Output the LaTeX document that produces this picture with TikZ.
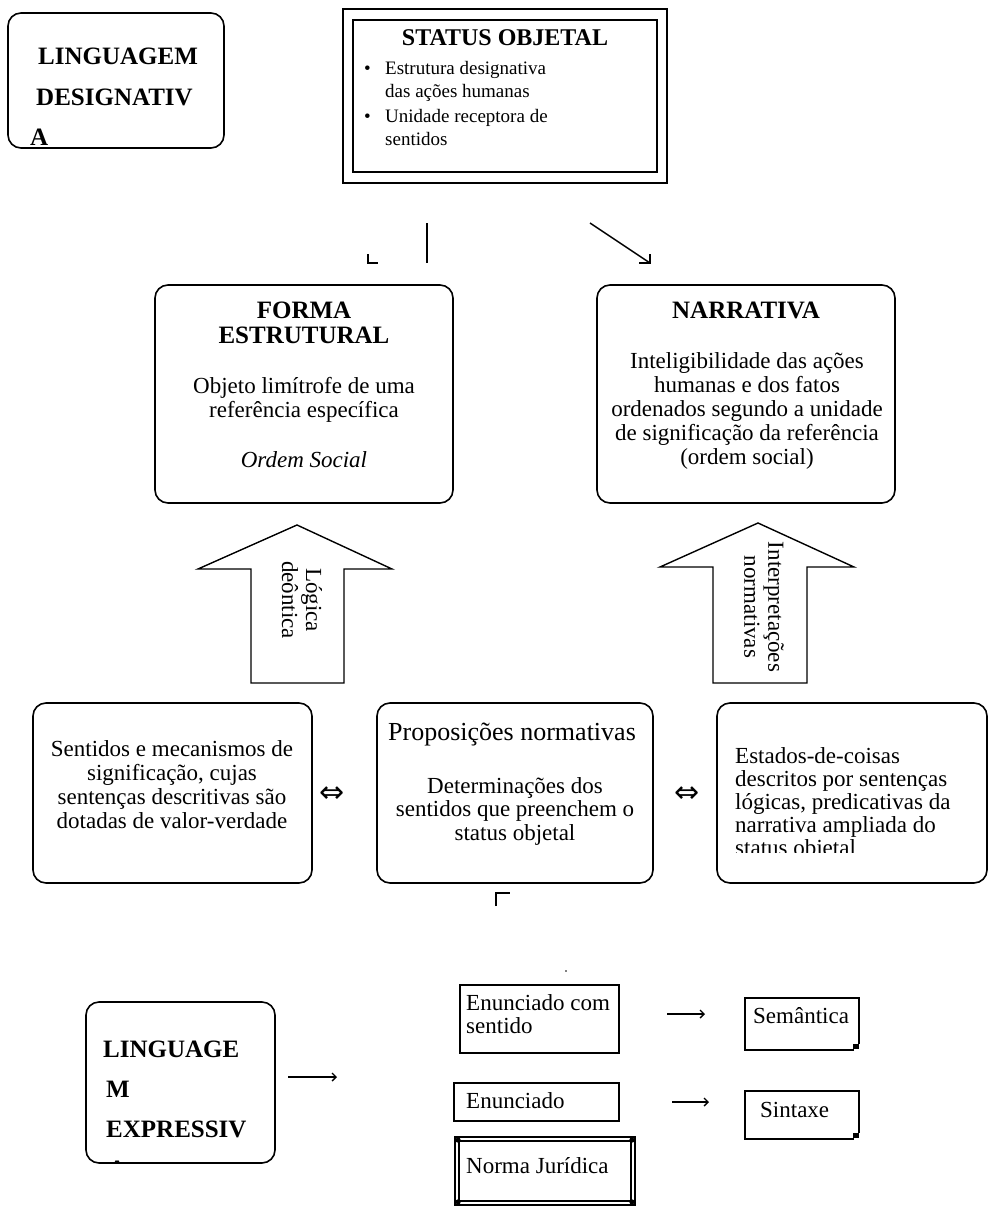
\documentclass[tikz,border=0pt]{standalone}
\usepackage{fontspec}
\setmainfont{Liberation Serif}
\newfontfamily\symfont{DejaVu Sans}
\usetikzlibrary{arrows.meta}
\begin{document}
\begin{tikzpicture}[x=1pt,y=-1pt,
  rbox/.style={draw, line width=1.6pt, rounded corners=13pt, inner sep=0pt},
  body/.style={font=\fontsize{23}{23.5}\selectfont, inner sep=0pt, align=center},
  bodyl/.style={font=\fontsize{23}{23}\selectfont, inner sep=0pt, align=left},
  ttl/.style={font=\fontsize{25}{25}\selectfont\bfseries, inner sep=0pt, align=center},
  big/.style={font=\fontsize{25}{25}\selectfont\bfseries, inner sep=0pt},
  small/.style={font=\fontsize{19}{23}\selectfont, inner sep=0pt, align=left},
  frag/.style={line width=1.4pt},
  blockarrow/.style={draw, line width=1.4pt, fill=white, line join=miter},
  txtarrow/.style={line width=1.4pt, -{Straight Barb[length=4pt,width=8pt]}},
  iff/.style={font=\symfont\fontsize{30}{30}\selectfont, inner sep=0pt},
]
\useasboundingbox (0,0) rectangle (989,1207);

% LINGUAGEM DESIGNATIVA
\node[rbox, minimum width=216pt, minimum height=135pt] (ld) at (116,80.5) {};
\node[big, anchor=base west] (ld1) at (38,65) {LINGUAGEM};
\node[big, anchor=base west] (ld2) at (36,105) {DESIGNATIV};
\node[big, anchor=base west] (ld3) at (30,145) {A};

% STATUS OBJETAL
\node[draw, line width=1.1pt, minimum width=324pt, minimum height=174pt, inner sep=0pt] (stout) at (505,96) {};
\node[draw, line width=1.8pt, minimum width=304pt, minimum height=152pt, inner sep=0pt] (stin) at (505,96) {};
\node[font=\fontsize{24}{24}\selectfont\bfseries, inner sep=0pt, anchor=base] (sttitle) at (505,46) {STATUS OBJETAL};
\node[small, anchor=base west] (stb1) at (364,97.5) {\makebox[21pt][l]{•}Estrutura designativa\\\hspace*{21pt}das ações humanas};
\node[small, anchor=base west] (stb2) at (364,145.5) {\makebox[21pt][l]{•}Unidade receptora de\\\hspace*{21pt}sentidos};

% fragments under STATUS
\coordinate (va) at (427,223);
\coordinate (vb) at (427,263);
\draw[frag] (va) -- (vb);
\coordinate (la) at (368,254);
\coordinate (lb) at (368,263);
\coordinate (lc) at (378,263);
\draw[frag] (la) -- (lb) -- (lc);
\coordinate (da) at (590,223);
\coordinate (db) at (650,263);
\coordinate (dc) at (639,263);
\coordinate (dd) at (650,254);
\draw[frag] (da) -- (db);
\draw[frag] (dc) -- (db) -- (dd);

% FORMA ESTRUTURAL
\node[rbox, minimum width=298pt, minimum height=218pt] (forma) at (304,394) {};
\node[ttl, anchor=base] (format) at (304,343) {FORMA\\ESTRUTURAL};
\node[body, font=\fontsize{23}{24}\selectfont, anchor=base] (formab) at (304,417) {Objeto limítrofe de uma\\referência específica};
\node[body, anchor=base] (formai) at (304,467) {\itshape Ordem Social};

% NARRATIVA
\node[rbox, minimum width=298pt, minimum height=218pt] (narr) at (746,394) {};
\node[ttl, anchor=base] (narrt) at (746,318) {NARRATIVA};
\node[body, font=\fontsize{23}{24}\selectfont, anchor=base] (narrb) at (747,464) {Inteligibilidade das ações\\humanas e dos fatos\\ordenados segundo a unidade\\de significação da referência\\(ordem social)};

% block arrows
\draw[blockarrow] (251,683) -- (251,569) -- (198,569) -- (297,525) -- (392,569) -- (344,569) -- (344,683) -- cycle;
\node[body, font=\fontsize{23}{24}\selectfont, rotate=-90] (ba1t) at (302,600) {Lógica\\deôntica};
\draw[blockarrow] (713,683) -- (713,567) -- (660,567) -- (758,523) -- (854,567) -- (807,567) -- (807,683) -- cycle;
\node[body, font=\fontsize{23}{24}\selectfont, rotate=-90] (ba2t) at (764,607) {Interpretações\\normativas};

% bottom row of three
\node[rbox, minimum width=279pt, minimum height=180pt] (b1) at (172.5,793) {};
\node[body, font=\fontsize{23}{23.7}\selectfont, anchor=base] (b1t) at (172,828) {Sentidos e mecanismos de\\significação, cujas\\sentenças descritivas são\\dotadas de valor-verdade};
\node[iff] (iff1) at (332,795) {⇔};
\node[rbox, minimum width=276pt, minimum height=180pt] (b2) at (515,793) {};
\node[font=\fontsize{26}{26}\selectfont, inner sep=0pt, anchor=base] (b2h) at (512,740) {Proposições normativas};
\node[body, anchor=base] (b2t) at (515,840) {Determinações dos\\sentidos que preenchem o\\status objetal};
\node[iff] (iff2) at (687,795) {⇔};
\node[rbox, minimum width=270pt, minimum height=180pt] (b3) at (852,793) {};
\begin{scope}
  \clip (700,700) rectangle (989,852);
  \node[bodyl, anchor=base west] (b3t) at (735,855) {Estados-de-coisas\\descritos por sentenças\\lógicas, predicativas da\\narrativa ampliada do\\status objetal};
\end{scope}
\coordinate (ga) at (496,906);
\coordinate (gb) at (496,893);
\coordinate (gc) at (510,893);
\draw[frag] (ga) -- (gb) -- (gc);
\fill (566,971) circle (0.8pt);

% LINGUAGEM EXPRESSIVA
\node[rbox, minimum width=189pt, minimum height=161pt] (le) at (180.5,1082.5) {};
\node[big, anchor=base west] (le1) at (103,1057) {LINGUAGE};
\node[big, anchor=base west] (le2) at (106,1097) {M};
\node[big, anchor=base west] (le3) at (106,1137) {EXPRESSIV};
\begin{scope}
  \clip (90,1150) rectangle (270,1163);
  \node[big, anchor=base west] (le4) at (108,1177) {A};
\end{scope}
\coordinate (lea) at (288,1077);
\coordinate (leb) at (337,1077);
\draw[txtarrow] (lea) -- (leb);

% Enunciado com sentido
\node[draw, line width=1.6pt, minimum width=159pt, minimum height=68pt, inner sep=0pt] (enc) at (539.5,1019) {};
\node[bodyl, anchor=base west] (enct) at (466,1033) {Enunciado com\\sentido};
\coordinate (eca) at (667,1014);
\coordinate (ecb) at (705,1014);
\draw[txtarrow] (eca) -- (ecb);

% Semantica
\draw[line width=1.6pt] (854,1050) -- (745,1050) -- (745,998) -- (859,998) -- (859,1044);
\fill (853,1043.5) rectangle (858.5,1049);
\node[bodyl, anchor=base west] (semt) at (753,1023) {Semântica};

% Enunciado
\node[draw, line width=1.6pt, minimum width=165pt, minimum height=38pt, inner sep=0pt] (en) at (536.5,1102) {};
\node[bodyl, anchor=base west] (ent) at (466,1108) {Enunciado};
\coordinate (ena) at (672,1102);
\coordinate (enb) at (709,1102);
\draw[txtarrow] (ena) -- (enb);

% Sintaxe
\draw[line width=1.6pt] (854,1139) -- (745,1139) -- (745,1091) -- (859,1091) -- (859,1133);
\fill (853,1132.5) rectangle (858.5,1138);
\node[bodyl, anchor=base west] (sint) at (760,1117) {Sintaxe};

% Norma Juridica
\node[draw, line width=1.1pt, minimum width=180pt, minimum height=68pt, inner sep=0pt] (normo) at (545,1171) {};
\node[draw, line width=1.8pt, minimum width=172pt, minimum height=60pt, inner sep=0pt] (normi) at (545,1171) {};
\fill (normi.north west) circle (2.6pt);
\fill (normi.north east) circle (2.6pt);
\fill (normi.south west) circle (2.6pt);
\fill (normi.south east) circle (2.6pt);
\node[bodyl, anchor=base west] (normt) at (466,1173) {Norma Jurídica};
\end{tikzpicture}
\end{document}
